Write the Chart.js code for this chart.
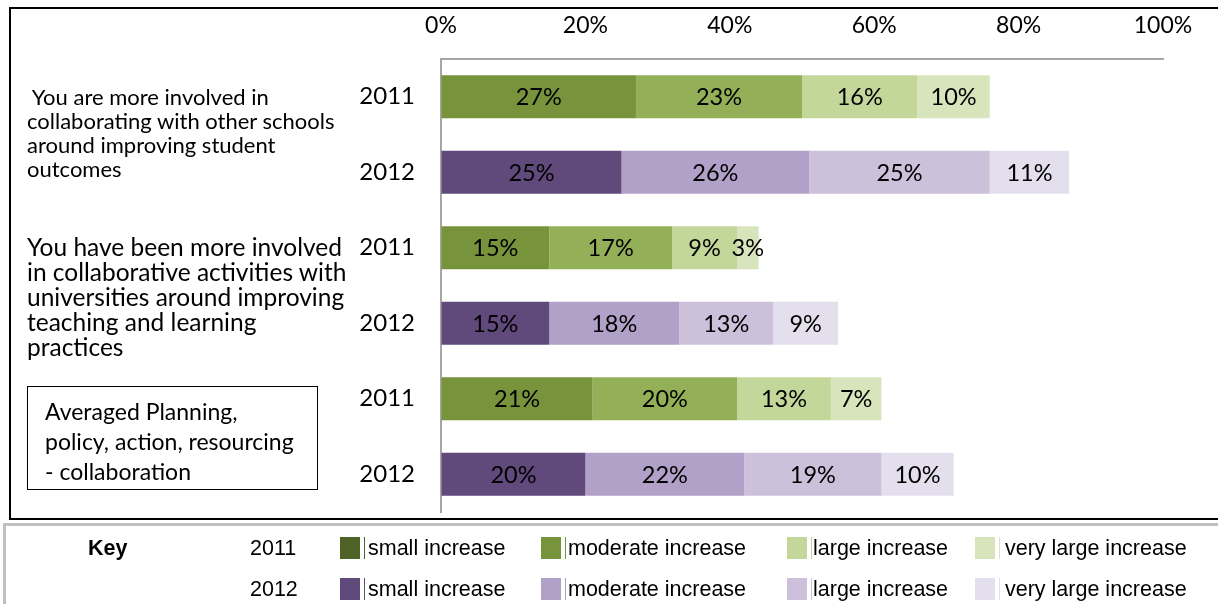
<!DOCTYPE html>
<html>
<head>
<meta charset="utf-8">
<script src="https://cdn.jsdelivr.net/npm/chart.js@4"></script>
<style>
  html, body { margin: 0; padding: 0; background: #fff; }
  body { width: 1218px; height: 604px; position: relative; overflow: hidden; font-family: Lato, "Open Sans", sans-serif; color: #000; }
  #frame { position: absolute; left: 9px; top: 7px; width: 1240px; height: 509px; border: 2px solid #000; }
  #wrap { position: absolute; left: 0; top: 0; width: 1218px; height: 604px; }
  .q { position: absolute; white-space: pre; }
  #q1 { left: 27px; top: 85px; font-size: 22px; line-height: 24px; }
  #q2 { left: 27px; top: 234px; font-size: 24.5px; line-height: 25px; }
  #avgBox { position: absolute; left: 27px; top: 386px; width: 291px; height: 104px; border: 1.5px solid #000; font-size: 23px; line-height: 30px; padding: 9px 0 0 17px; box-sizing: border-box; white-space: pre; }
  #key { position: absolute; left: 3px; top: 523px; width: 1240px; height: 100px; border: 3px solid #bfbfbf; font-family: "Liberation Sans", Arial, sans-serif; font-size: 21.5px; }
  #key span { position: absolute; white-space: nowrap; line-height: 22px; }
  #key .sw { width: 20px; height: 22px; }
  #key .tick { width: 1px; height: 22px; }
</style>
</head>
<body>
<div id="frame"></div>
<div id="wrap"><canvas id="chart"></canvas></div>

<div class="q" id="q1"> You are more involved in
collaborating with other schools
around improving student
outcomes</div>
<div class="q" id="q2">You have been more involved
in collaborative activities with
universities around improving
teaching and learning
practices</div>
<div id="avgBox">Averaged Planning,
policy, action, resourcing
- collaboration</div>

<div id="key"></div>

<script>
// row labels (two survey years per question)
const years = ['2011', '2012', '2011', '2012', '2011', '2012'];

// share of respondents per level of increase (%)
const smallInc = [27, 25, 15, 15, 21, 20];
const moderateInc = [23, 26, 17, 18, 20, 22];
const largeInc = [16, 25, 9, 13, 13, 19];
const veryLargeInc = [10, 11, 3, 9, 7, 10];

const xTicks = [0, 20, 40, 60, 80, 100];

const levelNames = ['small increase', 'moderate increase', 'large increase', 'very large increase'];

// bar shades: green for 2011 rows, purple for 2012 rows
const greens = ['#77933c', '#93b058', '#c4d79b', '#d8e4bc'];
const purples = ['#604a7b', '#b1a0c7', '#ccc0da', '#e4dfec'];
// key swatches
const keyGreens = ['#4f6228', '#77933c', '#c4d79b', '#d8e4bc'];
const keyPurples = ['#604a7b', '#b1a0c7', '#ccc0da', '#e4dfec'];

const series = [smallInc, moderateInc, largeInc, veryLargeInc];

const datasets = series.map((vals, i) => ({
  label: levelNames[i],
  data: vals,
  backgroundColor: years.map(y => y === '2011' ? greens[i] : purples[i]),
  borderWidth: 0,
  barPercentage: 0.57,
  categoryPercentage: 1
}));

// value labels centred inside each segment
const segmentLabels = {
  id: 'segmentLabels',
  afterDatasetsDraw(chart) {
    const ctx = chart.ctx;
    ctx.save();
    ctx.font = '23.5px Lato, "Open Sans", sans-serif';
    ctx.fillStyle = '#000';
    ctx.textAlign = 'center';
    ctx.textBaseline = 'middle';
    chart.data.datasets.forEach((ds, di) => {
      chart.getDatasetMeta(di).data.forEach((bar, i) => {
        const cx = (bar.x + bar.base) / 2;
        ctx.fillText(ds.data[i] + '%', cx, bar.y + 1);
      });
    });
    ctx.restore();
  }
};

new Chart(document.getElementById('chart'), {
  type: 'bar',
  data: { labels: years, datasets: datasets },
  options: {
    indexAxis: 'y',
    responsive: true,
    maintainAspectRatio: false,
    animation: false,
    layout: { padding: { left: 0, top: 0, right: 55, bottom: 92 } },
    plugins: {
      legend: { display: false },
      tooltip: { enabled: false }
    },
    scales: {
      x: {
        position: 'top',
        stacked: true,
        min: 0,
        max: 100,
        afterFit(scale) { scale.height = 59; },
        afterBuildTicks(scale) { scale.ticks = xTicks.map(v => ({ value: v })); },
        ticks: {
          padding: 20,
          color: '#000',
          font: { family: 'Lato', size: 23 },
          callback: v => v + '%'
        },
        grid: { drawOnChartArea: false, drawTicks: false },
        border: { color: '#a6a6a6', width: 2 }
      },
      y: {
        stacked: true,
        afterFit(scale) { scale.width = 441; },
        ticks: {
          padding: 26,
          color: '#000',
          font: { family: 'Lato', size: 24 }
        },
        grid: { drawOnChartArea: false, drawTicks: false },
        border: { color: '#a6a6a6', width: 2 }
      }
    }
  },
  plugins: [segmentLabels]
});

// key table under the chart
const key = document.getElementById('key');
function put(html, left, top) {
  const s = document.createElement('span');
  s.innerHTML = html;
  s.style.left = left + 'px';
  s.style.top = top + 'px';
  key.appendChild(s);
  return s;
}
const swatchX = [334, 535, 781, 969];
const textX = [362, 562, 807, 999];
const rowTop = [11, 52];
put('<b>Key</b>', 82, rowTop[0]);
[['2011', keyGreens], ['2012', keyPurples]].forEach(([yr, cols], r) => {
  put(yr, 244, rowTop[r]);
  cols.forEach((c, i) => {
    const sw = put('', swatchX[i], rowTop[r]);
    sw.className = 'sw';
    sw.style.background = c;
    const t = put('', swatchX[i] + 24, rowTop[r]);
    t.className = 'tick';
    t.style.background = c;
    put(levelNames[i], textX[i], rowTop[r]);
  });
});
</script>
</body>
</html>
